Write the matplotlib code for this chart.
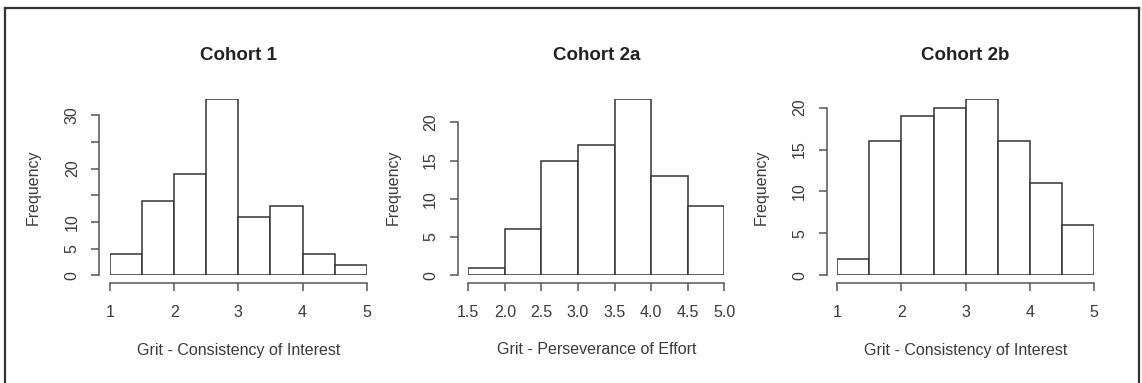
import matplotlib
matplotlib.use("Agg")
import matplotlib.pyplot as plt
from matplotlib.lines import Line2D
from matplotlib.transforms import IdentityTransform

plt.rcParams["font.family"] = ["Liberation Sans", "DejaVu Sans"]

# histogram bins and counts
edges_c1 = [1.0, 1.5, 2.0, 2.5, 3.0, 3.5, 4.0, 4.5, 5.0]
counts_c1 = [4, 14, 19, 33, 11, 13, 4, 2]

edges_c2a = [1.5, 2.0, 2.5, 3.0, 3.5, 4.0, 4.5, 5.0]
counts_c2a = [1, 6, 15, 17, 23, 13, 9]

edges_c2b = [1.0, 1.5, 2.0, 2.5, 3.0, 3.5, 4.0, 4.5, 5.0]
counts_c2b = [2, 16, 19, 20, 21, 16, 11, 6]

titles = ["Cohort 1", "Cohort 2a", "Cohort 2b"]
xlabels = ["Grit - Consistency of Interest",
           "Grit - Perseverance of Effort",
           "Grit - Consistency of Interest"]

xticks_c1 = [1, 2, 3, 4, 5]
xticklabels_c1 = ["1", "2", "3", "4", "5"]
xticks_c2a = [1.5, 2.0, 2.5, 3.0, 3.5, 4.0, 4.5, 5.0]
xticklabels_c2a = ["1.5", "2.0", "2.5", "3.0", "3.5", "4.0", "4.5", "5.0"]

yticks_c1 = [0, 5, 10, 15, 20, 25, 30]
yticklabels_c1 = ["0", "5", "10", "", "20", "", "30"]
yticks_c2 = [0, 5, 10, 15, 20]
yticklabels_c2 = ["0", "5", "10", "15", "20"]

W, H = 1142, 383
fig = plt.figure(figsize=(W / 100, H / 100), dpi=100)
fig.patch.set_facecolor("white")

TEXT = "#3a3a3a"
AXIS = "#555555"
EDGE = "#333333"
px = IdentityTransform()

panels = [
    # edges, counts, xticks, xticklabels, yticks, yticklabels, left px, right px, ylabel x px
    (edges_c1, counts_c1, xticks_c1, xticklabels_c1, yticks_c1, yticklabels_c1, 110, 366.7, 33),
    (edges_c2a, counts_c2a, xticks_c2a, xticklabels_c2a, yticks_c2, yticklabels_c2, 468.3, 724.3, 393),
    (edges_c2b, counts_c2b, xticks_c1, xticklabels_c1, yticks_c2, yticklabels_c2, 837.3, 1094, 761),
]

top_px, base_px = 99.3, 275.3

for i, (edges, counts, xt, xtl, yt, ytl, x0, x1, ylab_x) in enumerate(panels):
    ax = fig.add_axes([x0 / W, (H - base_px) / H, (x1 - x0) / W, (base_px - top_px) / H])
    widths = [b - a for a, b in zip(edges[:-1], edges[1:])]
    ax.bar(edges[:-1], counts, width=widths, align="edge",
           facecolor="white", edgecolor=EDGE, linewidth=1.1)
    ax.set_xlim(edges[0], edges[-1])
    ax.set_ylim(0, max(counts))

    for s in ["top", "right"]:
        ax.spines[s].set_visible(False)
    ax.spines["left"].set_position(("outward", 7.7))
    ax.spines["bottom"].set_position(("outward", 5.3))
    ax.spines["left"].set_bounds(yt[0], yt[-1])
    ax.spines["bottom"].set_bounds(xt[0], xt[-1])
    for s in ["left", "bottom"]:
        ax.spines[s].set_color(AXIS)
        ax.spines[s].set_linewidth(1.1)

    ax.set_xticks(xt)
    ax.set_xticklabels(xtl)
    ax.set_yticks(yt)
    ax.set_yticklabels(ytl, rotation=90, va="center")
    ax.tick_params(axis="both", colors=AXIS, labelcolor=TEXT, labelsize=11.5,
                   length=6, width=1.1)
    ax.tick_params(axis="x", pad=10)
    ax.tick_params(axis="y", pad=8)

    fig.text((x0 + x1) / 2, H - 55, titles[i], transform=px, ha="center", va="center",
             fontsize=13.5, fontweight="bold", color="#222222")

    ax.set_xlabel(xlabels[i], fontsize=11.5, color=TEXT)
    ax.xaxis.set_label_coords((x0 + x1) / 2, H - 350, transform=px)
    ax.xaxis.label.set_va("center")
    ax.set_ylabel("Frequency", fontsize=11.5, color=TEXT)
    ax.yaxis.set_label_coords(ylab_x, H - 187, transform=px)
    ax.yaxis.label.set_va("center")

# outer frame (open at the bottom)
frame = dict(color="#333333", linewidth=1.6, transform=px)
fig.add_artist(Line2D([5, 5], [-5, H - 8], **frame))
fig.add_artist(Line2D([5, 1139], [H - 8, H - 8], **frame))
fig.add_artist(Line2D([1139, 1139], [-5, H - 8], **frame))

fig.savefig("out.png", dpi=100)
